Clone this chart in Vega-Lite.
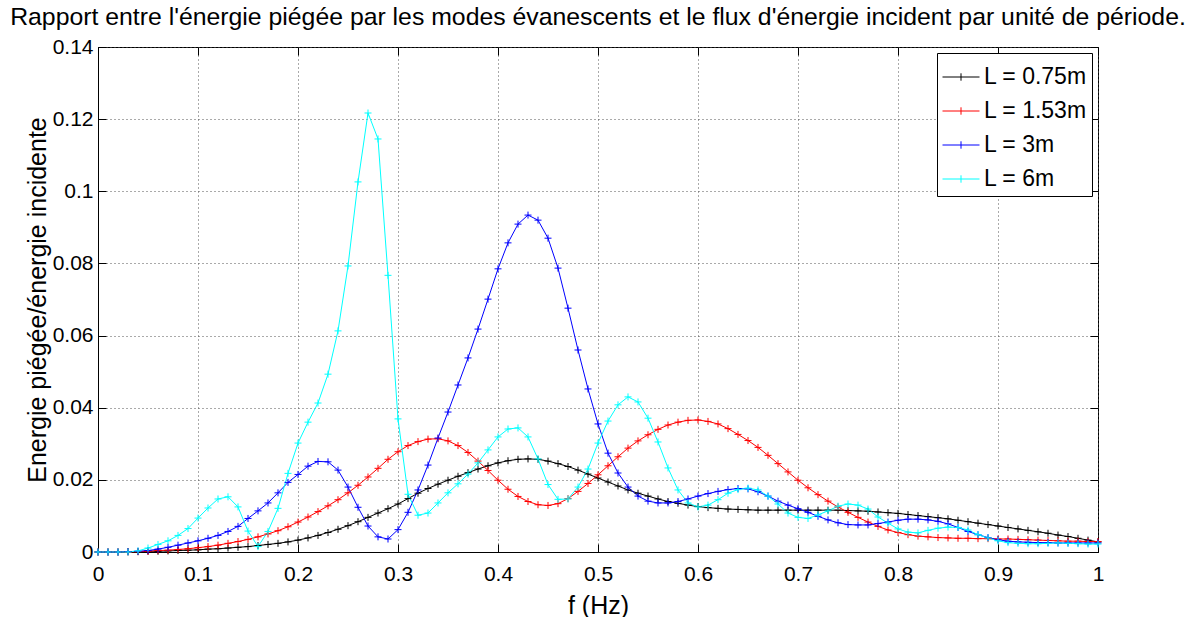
{
  "$schema": "https://vega.github.io/schema/vega-lite/v6.json",
  "width": 1000,
  "height": 505,
  "autosize": {"type": "none"},
  "padding": {"left": 98, "top": 47, "right": 102, "bottom": 65},
  "background": "white",
  "title": {
    "text": "Rapport entre l'énergie piégée par les modes évanescents et le flux d'énergie incident par unité de période.",
    "font": "Liberation Sans",
    "fontSize": 24.8,
    "fontWeight": "normal",
    "color": "black",
    "anchor": "middle",
    "offset": 6
  },
  "data": {
    "values": [
      {"f": 0.00, "a": 0, "b": 0, "c": 0, "d": 0},
      {"f": 0.01, "a": 0, "b": 0, "c": 0, "d": 0},
      {"f": 0.02, "a": 0, "b": 0, "c": 0, "d": 0},
      {"f": 0.03, "a": 0.0001, "b": 0, "c": 0.0001, "d": 0},
      {"f": 0.04, "a": 0.0001, "b": 0.0001, "c": 0.0002, "d": 0.0003},
      {"f": 0.05, "a": 0.0002, "b": 0.0002, "c": 0.0004, "d": 0.0011},
      {"f": 0.06, "a": 0.0002, "b": 0.0004, "c": 0.0008, "d": 0.0021},
      {"f": 0.07, "a": 0.0003, "b": 0.0005, "c": 0.0013, "d": 0.0031},
      {"f": 0.08, "a": 0.0004, "b": 0.0007, "c": 0.0019, "d": 0.0046},
      {"f": 0.09, "a": 0.0005, "b": 0.0009, "c": 0.0025, "d": 0.0065},
      {"f": 0.10, "a": 0.0006, "b": 0.0012, "c": 0.0031, "d": 0.0094},
      {"f": 0.11, "a": 0.0008, "b": 0.0015, "c": 0.0038, "d": 0.0122},
      {"f": 0.12, "a": 0.0009, "b": 0.0019, "c": 0.0046, "d": 0.0147},
      {"f": 0.13, "a": 0.0011, "b": 0.0024, "c": 0.0057, "d": 0.0153},
      {"f": 0.14, "a": 0.0013, "b": 0.0029, "c": 0.0071, "d": 0.0125},
      {"f": 0.15, "a": 0.0015, "b": 0.0035, "c": 0.0093, "d": 0.0058},
      {"f": 0.16, "a": 0.0018, "b": 0.0042, "c": 0.0114, "d": 0.0015},
      {"f": 0.17, "a": 0.0021, "b": 0.0050, "c": 0.0136, "d": 0.0057},
      {"f": 0.18, "a": 0.0024, "b": 0.0059, "c": 0.0164, "d": 0.0121},
      {"f": 0.19, "a": 0.0028, "b": 0.0070, "c": 0.0193, "d": 0.0218},
      {"f": 0.20, "a": 0.0033, "b": 0.0083, "c": 0.0215, "d": 0.0302},
      {"f": 0.21, "a": 0.0039, "b": 0.0097, "c": 0.0238, "d": 0.0360},
      {"f": 0.22, "a": 0.0046, "b": 0.0112, "c": 0.0251, "d": 0.0413},
      {"f": 0.23, "a": 0.0054, "b": 0.0128, "c": 0.0250, "d": 0.0493},
      {"f": 0.24, "a": 0.0063, "b": 0.0145, "c": 0.0227, "d": 0.0613},
      {"f": 0.25, "a": 0.0073, "b": 0.0164, "c": 0.0180, "d": 0.0793},
      {"f": 0.26, "a": 0.0084, "b": 0.0185, "c": 0.0124, "d": 0.1026},
      {"f": 0.27, "a": 0.0096, "b": 0.0208, "c": 0.0072, "d": 0.1217},
      {"f": 0.28, "a": 0.0108, "b": 0.0232, "c": 0.0042, "d": 0.1145},
      {"f": 0.29, "a": 0.0120, "b": 0.0257, "c": 0.0036, "d": 0.0767},
      {"f": 0.30, "a": 0.0133, "b": 0.0278, "c": 0.0062, "d": 0.0369},
      {"f": 0.31, "a": 0.0148, "b": 0.0295, "c": 0.0110, "d": 0.0160},
      {"f": 0.32, "a": 0.0163, "b": 0.0306, "c": 0.0172, "d": 0.0102},
      {"f": 0.33, "a": 0.0176, "b": 0.0313, "c": 0.0241, "d": 0.0108},
      {"f": 0.34, "a": 0.0188, "b": 0.0314, "c": 0.0316, "d": 0.0136},
      {"f": 0.35, "a": 0.0199, "b": 0.0308, "c": 0.0388, "d": 0.0164},
      {"f": 0.36, "a": 0.0210, "b": 0.0295, "c": 0.0463, "d": 0.0189},
      {"f": 0.37, "a": 0.0220, "b": 0.0276, "c": 0.0538, "d": 0.0216},
      {"f": 0.38, "a": 0.0230, "b": 0.0252, "c": 0.0618, "d": 0.0247},
      {"f": 0.39, "a": 0.0239, "b": 0.0226, "c": 0.0701, "d": 0.0283},
      {"f": 0.40, "a": 0.0247, "b": 0.0199, "c": 0.0785, "d": 0.0319},
      {"f": 0.41, "a": 0.0253, "b": 0.0174, "c": 0.0857, "d": 0.0341},
      {"f": 0.42, "a": 0.0257, "b": 0.0154, "c": 0.0909, "d": 0.0344},
      {"f": 0.43, "a": 0.0258, "b": 0.0140, "c": 0.0934, "d": 0.0319},
      {"f": 0.44, "a": 0.0257, "b": 0.0131, "c": 0.0920, "d": 0.0258},
      {"f": 0.45, "a": 0.0252, "b": 0.0129, "c": 0.0870, "d": 0.0187},
      {"f": 0.46, "a": 0.0245, "b": 0.0134, "c": 0.0787, "d": 0.0146},
      {"f": 0.47, "a": 0.0237, "b": 0.0148, "c": 0.0676, "d": 0.0147},
      {"f": 0.48, "a": 0.0227, "b": 0.0168, "c": 0.0560, "d": 0.0180},
      {"f": 0.49, "a": 0.0216, "b": 0.0190, "c": 0.0452, "d": 0.0230},
      {"f": 0.50, "a": 0.0205, "b": 0.0214, "c": 0.0355, "d": 0.0302},
      {"f": 0.51, "a": 0.0194, "b": 0.0239, "c": 0.0274, "d": 0.0363},
      {"f": 0.52, "a": 0.0183, "b": 0.0264, "c": 0.0219, "d": 0.0408},
      {"f": 0.53, "a": 0.0172, "b": 0.0288, "c": 0.0180, "d": 0.0430},
      {"f": 0.54, "a": 0.0163, "b": 0.0308, "c": 0.0155, "d": 0.0416},
      {"f": 0.55, "a": 0.0155, "b": 0.0325, "c": 0.0141, "d": 0.0371},
      {"f": 0.56, "a": 0.0147, "b": 0.0340, "c": 0.0136, "d": 0.0305},
      {"f": 0.57, "a": 0.0140, "b": 0.0352, "c": 0.0136, "d": 0.0233},
      {"f": 0.58, "a": 0.0135, "b": 0.0360, "c": 0.0140, "d": 0.0172},
      {"f": 0.59, "a": 0.0130, "b": 0.0365, "c": 0.0147, "d": 0.0136},
      {"f": 0.60, "a": 0.0126, "b": 0.0366, "c": 0.0155, "d": 0.0125},
      {"f": 0.61, "a": 0.0123, "b": 0.0362, "c": 0.0162, "d": 0.0130},
      {"f": 0.62, "a": 0.0121, "b": 0.0355, "c": 0.0168, "d": 0.0145},
      {"f": 0.63, "a": 0.0119, "b": 0.0342, "c": 0.0173, "d": 0.0163},
      {"f": 0.64, "a": 0.0118, "b": 0.0326, "c": 0.0176, "d": 0.0173},
      {"f": 0.65, "a": 0.0117, "b": 0.0309, "c": 0.0175, "d": 0.0177},
      {"f": 0.66, "a": 0.0116, "b": 0.0290, "c": 0.0167, "d": 0.0172},
      {"f": 0.67, "a": 0.0116, "b": 0.0268, "c": 0.0155, "d": 0.0155},
      {"f": 0.68, "a": 0.0116, "b": 0.0245, "c": 0.0141, "d": 0.0133},
      {"f": 0.69, "a": 0.0116, "b": 0.0222, "c": 0.0130, "d": 0.0108},
      {"f": 0.70, "a": 0.0116, "b": 0.0199, "c": 0.0120, "d": 0.0096},
      {"f": 0.71, "a": 0.0116, "b": 0.0178, "c": 0.0110, "d": 0.0093},
      {"f": 0.72, "a": 0.0116, "b": 0.0159, "c": 0.0099, "d": 0.0103},
      {"f": 0.73, "a": 0.0116, "b": 0.0141, "c": 0.0089, "d": 0.0114},
      {"f": 0.74, "a": 0.0116, "b": 0.0125, "c": 0.0081, "d": 0.0127},
      {"f": 0.75, "a": 0.0115, "b": 0.0110, "c": 0.0076, "d": 0.0133},
      {"f": 0.76, "a": 0.0114, "b": 0.0096, "c": 0.0075, "d": 0.0130},
      {"f": 0.77, "a": 0.0113, "b": 0.0083, "c": 0.0075, "d": 0.0119},
      {"f": 0.78, "a": 0.0111, "b": 0.0071, "c": 0.0079, "d": 0.0097},
      {"f": 0.79, "a": 0.0109, "b": 0.0061, "c": 0.0083, "d": 0.0080},
      {"f": 0.80, "a": 0.0107, "b": 0.0054, "c": 0.0088, "d": 0.0064},
      {"f": 0.81, "a": 0.0104, "b": 0.0048, "c": 0.0091, "d": 0.0055},
      {"f": 0.82, "a": 0.0101, "b": 0.0044, "c": 0.0091, "d": 0.0053},
      {"f": 0.83, "a": 0.0098, "b": 0.0042, "c": 0.0089, "d": 0.0060},
      {"f": 0.84, "a": 0.0095, "b": 0.0040, "c": 0.0085, "d": 0.0066},
      {"f": 0.85, "a": 0.0092, "b": 0.0039, "c": 0.0078, "d": 0.0069},
      {"f": 0.86, "a": 0.0088, "b": 0.0038, "c": 0.0068, "d": 0.0068},
      {"f": 0.87, "a": 0.0084, "b": 0.0038, "c": 0.0057, "d": 0.0061},
      {"f": 0.88, "a": 0.0080, "b": 0.0037, "c": 0.0048, "d": 0.0048},
      {"f": 0.89, "a": 0.0076, "b": 0.0037, "c": 0.0040, "d": 0.0039},
      {"f": 0.90, "a": 0.0072, "b": 0.0036, "c": 0.0034, "d": 0.0031},
      {"f": 0.91, "a": 0.0068, "b": 0.0036, "c": 0.0030, "d": 0.0026},
      {"f": 0.92, "a": 0.0064, "b": 0.0035, "c": 0.0028, "d": 0.0024},
      {"f": 0.93, "a": 0.0060, "b": 0.0034, "c": 0.0027, "d": 0.0023},
      {"f": 0.94, "a": 0.0056, "b": 0.0033, "c": 0.0026, "d": 0.0023},
      {"f": 0.95, "a": 0.0052, "b": 0.0032, "c": 0.0026, "d": 0.0024},
      {"f": 0.96, "a": 0.0047, "b": 0.0031, "c": 0.0025, "d": 0.0025},
      {"f": 0.97, "a": 0.0043, "b": 0.0030, "c": 0.0025, "d": 0.0024},
      {"f": 0.98, "a": 0.0038, "b": 0.0030, "c": 0.0025, "d": 0.0023},
      {"f": 0.99, "a": 0.0033, "b": 0.0029, "c": 0.0025, "d": 0.0022},
      {"f": 1.00, "a": 0.0028, "b": 0.0029, "c": 0.0025, "d": 0.0022}
    ]
  },
  "transform": [{"fold": ["a", "b", "c", "d"], "as": ["serie", "E"]}],
  "encoding": {
    "color": {
      "field": "serie",
      "type": "nominal",
      "scale": {"domain": ["a", "b", "c", "d"], "range": ["#000000", "#ff0000", "#0000ff", "#00ffff"]},
      "legend": {
        "title": null,
        "orient": "none",
        "legendX": 839,
        "legendY": 6,
        "padding": 5,
        "strokeColor": "black",
        "fillColor": "white",
        "symbolType": "M-1,0H1M0,-0.2V0.2",
        "symbolSize": 1369,
        "symbolStrokeWidth": 1,
        "symbolFillColor": "transparent",
        "labelFont": "Liberation Sans",
        "labelFontSize": 23,
        "labelColor": "black",
        "labelOffset": 4,
        "rowPadding": 3,
        "labelExpr": "datum.label == 'a' ? 'L = 0.75m' : datum.label == 'b' ? 'L = 1.53m' : datum.label == 'c' ? 'L = 3m' : 'L = 6m'"
      }
    }
  },
  "layer": [
    {
      "mark": {"type": "line", "strokeWidth": 1},
      "encoding": {
        "x": {
          "field": "f",
          "type": "quantitative",
          "scale": {"domain": [0, 1], "nice": false, "zero": false},
          "axis": {
            "values": [0, 0.1, 0.2, 0.3, 0.4, 0.5, 0.6, 0.7, 0.8, 0.9, 1],
            "format": "~g",
            "title": "f (Hz)",
            "labelPadding": 19,
            "titlePadding": 9
          }
        },
        "y": {
          "field": "E",
          "type": "quantitative",
          "scale": {"domain": [0, 0.14], "nice": false},
          "axis": {
            "values": [0, 0.02, 0.04, 0.06, 0.08, 0.1, 0.12, 0.14],
            "format": "~g",
            "title": "Energie piégée/énergie incidente",
            "labelPadding": 13,
            "titlePadding": 2
          }
        }
      }
    },
    {
      "mark": {"type": "point", "shape": "M-1,0H1M0,-1V1", "size": 49, "filled": false, "strokeWidth": 1, "opacity": 1},
      "encoding": {
        "x": {
          "field": "f",
          "type": "quantitative",
          "axis": {
            "orient": "top",
            "values": [0, 0.1, 0.2, 0.3, 0.4, 0.5, 0.6, 0.7, 0.8, 0.9, 1],
            "labels": false,
            "title": null,
            "grid": false,
            "domain": false
          }
        },
        "y": {
          "field": "E",
          "type": "quantitative",
          "axis": {
            "orient": "right",
            "values": [0, 0.02, 0.04, 0.06, 0.08, 0.1, 0.12, 0.14],
            "labels": false,
            "title": null,
            "grid": false,
            "domain": false
          }
        }
      }
    }
  ],
  "resolve": {"axis": {"x": "independent", "y": "independent"}},
  "config": {
    "view": {"stroke": "black", "strokeWidth": 1},
    "axis": {
      "labelFont": "Liberation Sans",
      "labelFontSize": 21,
      "labelColor": "black",
      "titleFont": "Liberation Sans",
      "titleFontSize": 25,
      "titleFontWeight": "normal",
      "titleColor": "black",
      "domainColor": "black",
      "tickColor": "black",
      "tickSize": -8,
      "grid": true,
      "gridColor": "#555555",
      "gridDash": [1, 3],
      "gridWidth": 1,
      "labelFlush": false,
      "labelOverlap": false
    }
  }
}
